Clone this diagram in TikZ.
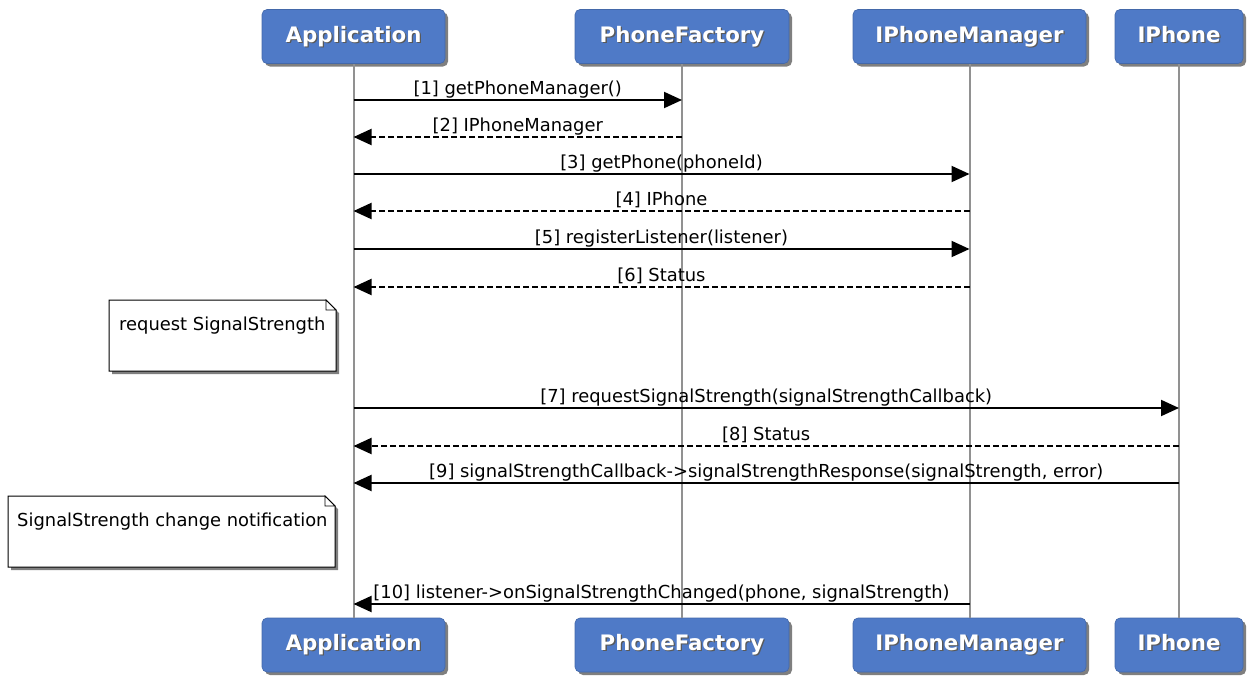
\documentclass[tikz,border=0pt]{standalone}
\usepackage{fontspec}
\setmainfont{DejaVu Sans}
\usetikzlibrary{arrows.meta,shadows}
\definecolor{actorblue}{RGB}{79,122,199}
\definecolor{lifegray}{RGB}{145,145,145}
\newcommand{\shtext}[1]{\rlap{\hspace*{1.3pt}\raisebox{-1.3pt}{\textcolor{black!65}{#1}}}\textcolor{white}{#1}}
\begin{document}
\begin{tikzpicture}[x=1pt,y=-1pt,
  actor/.style={rectangle, rounded corners=5pt, fill=actorblue, draw=actorblue!85!black, line width=0.6pt,
    minimum height=54pt, inner sep=0pt, text height=15.5pt, text depth=4.5pt,
    font=\fontsize{21.3}{24}\selectfont\bfseries,
    drop shadow={shadow xshift=3pt, shadow yshift=-3pt, opacity=0.5, fill=black}},
  lifeline/.style={draw=lifegray, line width=2pt},
  call/.style={draw=black, line width=2pt, -{Triangle[length=18pt,width=16pt]}},
  reply/.style={call, dash pattern=on 6pt off 3pt},
  lbl/.style={anchor=base, inner sep=0pt, yshift=6pt, font=\fontsize{17.9}{20}\selectfont},
  note/.style={fill=white, draw=black, line width=1pt,
    drop shadow={shadow xshift=3pt, shadow yshift=-3pt, opacity=0.5, fill=black}},
  fold/.style={fill=white, draw=black, line width=0.8pt},
  notetext/.style={anchor=base west, inner sep=0pt, font=\fontsize{17.9}{20}\selectfont}
]
\useasboundingbox (0,0) rectangle (1247,675);

% actors top
\node[actor, minimum width=183pt] (appT) at (353.5,36.5) {\shtext{Application}};
\node[actor, minimum width=214pt] (pfT) at (682,36.5) {\shtext{PhoneFactory}};
\node[actor, minimum width=233pt] (ipmT) at (969.5,36.5) {\shtext{IPhoneManager}};
\node[actor, minimum width=128pt] (iphT) at (1179,36.5) {\shtext{IPhone}};
% actors bottom
\node[actor, minimum width=183pt] (appB) at (353.5,645) {\shtext{Application}};
\node[actor, minimum width=214pt] (pfB) at (682,645) {\shtext{PhoneFactory}};
\node[actor, minimum width=233pt] (ipmB) at (969.5,645) {\shtext{IPhoneManager}};
\node[actor, minimum width=128pt] (iphB) at (1179,645) {\shtext{IPhone}};

% lifelines
\draw[lifeline] (appT.south) -- (appB.north);
\draw[lifeline] (pfT.south) -- (pfB.north);
\draw[lifeline] (ipmT.south) -- (ipmB.north);
\draw[lifeline] (iphT.south) -- (iphB.north);

% notes
\path[note] (109,300) -- (326,300) -- (336,310) -- (336,371) -- (109,371) -- cycle;
\draw[fold] (326,300) -- (326,310) -- (336,310) -- cycle;
\node[notetext] (n1) at (119,330) {request SignalStrength};
\path[note] (8,496) -- (325,496) -- (335,506) -- (335,567) -- (8,567) -- cycle;
\draw[fold] (325,496) -- (325,506) -- (335,506) -- cycle;
\node[notetext] (n2) at (17,526) {SignalStrength change notification};

% message end points
\coordinate (a1) at (appT.south |- 0,100);  \coordinate (b1) at (pfT.south |- 0,100);
\coordinate (a2) at (appT.south |- 0,137);  \coordinate (b2) at (pfT.south |- 0,137);
\coordinate (a3) at (appT.south |- 0,174);  \coordinate (b3) at (ipmT.south |- 0,174);
\coordinate (a4) at (appT.south |- 0,211);  \coordinate (b4) at (ipmT.south |- 0,211);
\coordinate (a5) at (appT.south |- 0,249);  \coordinate (b5) at (ipmT.south |- 0,249);
\coordinate (a6) at (appT.south |- 0,287);  \coordinate (b6) at (ipmT.south |- 0,287);
\coordinate (a7) at (appT.south |- 0,408);  \coordinate (b7) at (iphT.south |- 0,408);
\coordinate (a8) at (appT.south |- 0,446);  \coordinate (b8) at (iphT.south |- 0,446);
\coordinate (a9) at (appT.south |- 0,483);  \coordinate (b9) at (iphT.south |- 0,483);
\coordinate (a10) at (appT.south |- 0,604); \coordinate (b10) at (ipmT.south |- 0,604);

% messages
\draw[call]  (a1) -- (b1) node[midway, lbl] (l1) {[1] getPhoneManager()};
\draw[reply] (b2) -- (a2) node[midway, lbl] (l2) {[2] IPhoneManager};
\draw[call]  (a3) -- (b3) node[midway, lbl] (l3) {[3] getPhone(phoneId)};
\draw[reply] (b4) -- (a4) node[midway, lbl] (l4) {[4] IPhone};
\draw[call]  (a5) -- (b5) node[midway, lbl] (l5) {[5] registerListener(listener)};
\draw[reply] (b6) -- (a6) node[midway, lbl] (l6) {[6] Status};
\draw[call]  (a7) -- (b7) node[midway, lbl] (l7) {[7] requestSignalStrength(signalStrengthCallback)};
\draw[reply] (b8) -- (a8) node[midway, lbl] (l8) {[8] Status};
\draw[call]  (b9) -- (a9) node[midway, lbl] (l9) {[9] signalStrengthCallback->signalStrengthResponse(signalStrength, error)};
\draw[call]  (b10) -- (a10) node[midway, lbl] (l10) {[10] listener->onSignalStrengthChanged(phone, signalStrength)};
\end{tikzpicture}
\end{document}
